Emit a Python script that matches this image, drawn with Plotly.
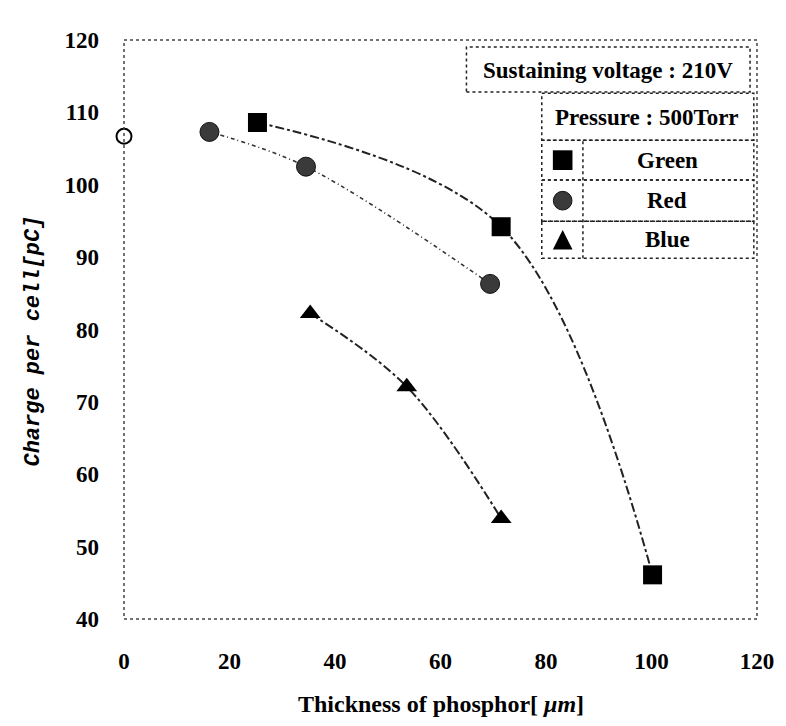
import plotly.graph_objects as go

# Data
green_x = [25.3, 71.5, 100.2]
green_y = [108.6, 94.2, 46.1]
red_x = [16.2, 34.5, 69.4]
red_y = [107.3, 102.5, 86.3]
blue_x = [35.3, 53.6, 71.5]
blue_y = [82.2, 72.1, 53.9]
ref_x = [0]
ref_y = [106.7]

x_ticks = [0, 20, 40, 60, 80, 100, 120]
y_ticks = [40, 50, 60, 70, 80, 90, 100, 110, 120]

legend_title1 = "Sustaining voltage : 210V"
legend_title2 = "Pressure : 500Torr"
series_names = ["Green", "Red", "Blue"]

SERIF = "Liberation Serif"
fig = go.Figure()

fig.add_trace(go.Scatter(x=green_x, y=green_y, mode="lines+markers", name="Green",
                         line=dict(color="#222", width=2, dash="dashdot", shape="spline"),
                         marker=dict(symbol="square", size=19, color="black")))
fig.add_trace(go.Scatter(x=red_x, y=red_y, mode="lines+markers", name="Red",
                         line=dict(color="#333", width=1.6, dash="4px,3px,1px,3px", shape="spline"),
                         marker=dict(symbol="circle", size=19, color="#3a3a3a",
                                     line=dict(color="#111", width=1))))
fig.add_trace(go.Scatter(x=blue_x, y=blue_y, mode="lines+markers", name="Blue",
                         line=dict(color="#222", width=2, dash="dashdot", shape="spline"),
                         marker=dict(symbol="triangle-up", size=18, color="black")))
fig.add_trace(go.Scatter(x=ref_x, y=ref_y, mode="markers", name="ref",
                         marker=dict(symbol="circle", size=15, color="white",
                                     line=dict(color="black", width=2)),
                         cliponaxis=False))

shapes = []
# plot border (dotted)
shapes.append(dict(type="rect", xref="paper", yref="paper", x0=0, x1=1, y0=0, y1=1,
                   line=dict(color="#444", width=1.5, dash="dot")))
# legend table
dot = dict(color="#222", width=1.5, dash="dot")
shapes.append(dict(type="rect", xref="paper", yref="paper", x0=0.541, x1=0.989, y0=0.910, y1=0.988, line=dot))
shapes.append(dict(type="rect", xref="paper", yref="paper", x0=0.660, x1=0.995, y0=0.827, y1=0.908, line=dot))
row_edges = [0.827, 0.758, 0.687, 0.623]
for i in range(3):
    shapes.append(dict(type="rect", xref="paper", yref="paper", x0=0.660, x1=0.995,
                       y0=row_edges[i + 1], y1=row_edges[i], line=dot))
shapes.append(dict(type="line", xref="paper", yref="paper", x0=0.725, x1=0.725,
                   y0=0.623, y1=0.827, line=dot))
# legend markers
mx = 0.693
rc = [(row_edges[i] + row_edges[i + 1]) / 2 for i in range(3)]
hw, hh = 0.0155, 0.017
shapes.append(dict(type="rect", xref="paper", yref="paper", x0=mx - hw, x1=mx + hw,
                   y0=rc[0] - hh, y1=rc[0] + hh, fillcolor="black", line=dict(width=0)))
shapes.append(dict(type="circle", xref="paper", yref="paper", x0=mx - hw * 0.95, x1=mx + hw * 0.95,
                   y0=rc[1] - hh * 0.95, y1=rc[1] + hh * 0.95, fillcolor="#3a3a3a",
                   line=dict(color="#111", width=1)))
shapes.append(dict(type="path", xref="paper", yref="paper",
                   path=f"M {mx - hw} {rc[2] - hh} L {mx + hw} {rc[2] - hh} L {mx} {rc[2] + hh} Z",
                   fillcolor="black", line=dict(width=0)))

LEG = 23
annotations = [
    dict(xref="paper", yref="paper", x=0.764, y=0.948, text=legend_title1, showarrow=False,
         font=dict(family=SERIF, size=LEG, color="black"), xanchor="center", yanchor="middle"),
    dict(xref="paper", yref="paper", x=0.827, y=0.867, text=legend_title2, showarrow=False,
         font=dict(family=SERIF, size=LEG, color="black"), xanchor="center", yanchor="middle"),
]
for name, yc in zip(series_names, rc):
    annotations.append(dict(xref="paper", yref="paper", x=0.858, y=yc, text=name, showarrow=False,
                            font=dict(family=SERIF, size=LEG, color="black"),
                            xanchor="center", yanchor="middle"))
annotations.append(dict(xref="paper", yref="paper", x=0.5, y=-0.147,
                        text="Thickness of phosphor[ <i>μm</i>]", showarrow=False,
                        font=dict(family=SERIF, size=24, color="black"),
                        xanchor="center", yanchor="middle"))
annotations.append(dict(xref="paper", yref="paper", x=-0.143, y=0.48,
                        text="<i>Charge per cell[pC]</i>", showarrow=False, textangle=-90,
                        font=dict(family="Liberation Mono", size=22, color="black"),
                        xanchor="center", yanchor="middle"))

fig.update_layout(
    width=786, height=726,
    margin=dict(l=124, r=26, t=40, b=107),
    paper_bgcolor="white", plot_bgcolor="white",
    showlegend=False,
    shapes=shapes,
    annotations=annotations,
    font=dict(family=SERIF, color="black"),
)
fig.update_xaxes(range=[0, 120], tickvals=x_ticks, ticktext=[str(v) for v in x_ticks],
                 showgrid=False, zeroline=False, showline=False, ticks="",
                 ticklabelstandoff=26,
                 tickfont=dict(family=SERIF, size=23, color="black", weight="bold"))
fig.update_yaxes(range=[40, 120], tickvals=y_ticks, ticktext=[str(v) for v in y_ticks],
                 showgrid=False, zeroline=False, showline=False, ticks="",
                 ticklabelstandoff=24,
                 tickfont=dict(family=SERIF, size=23, color="black", weight="bold"))
for a in fig.layout.annotations:
    a.font.weight = "bold"

fig.write_html("out.html")
